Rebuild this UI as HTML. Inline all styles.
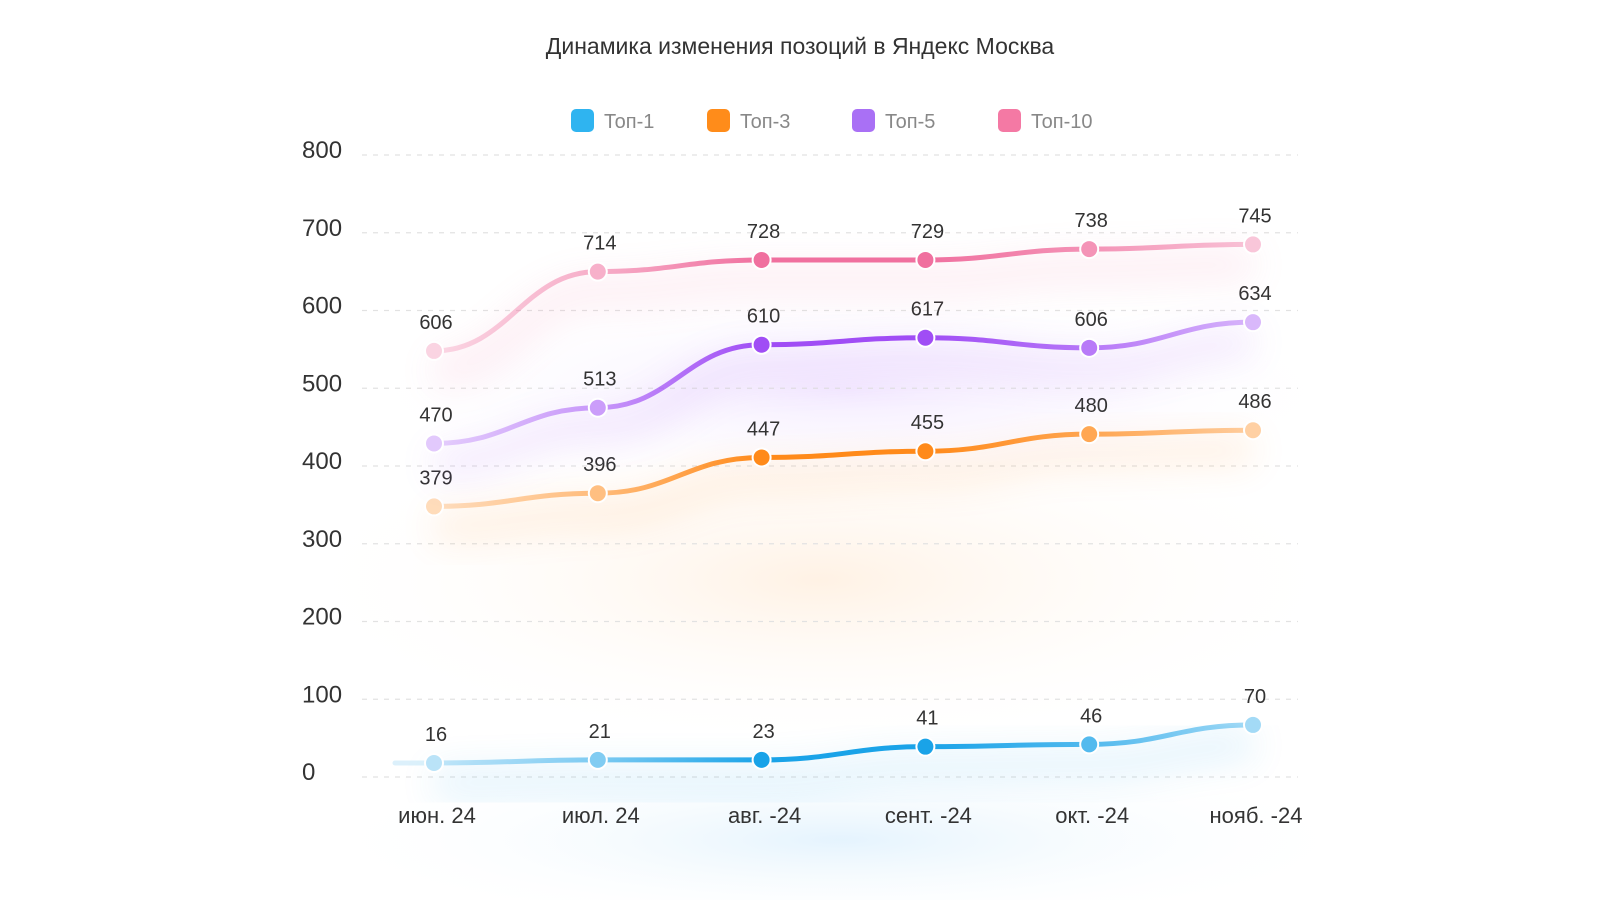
<!DOCTYPE html>
<html><head><meta charset="utf-8">
<style>
html,body{margin:0;padding:0;background:#fff;}
body{width:1600px;height:900px;overflow:hidden;font-family:"Liberation Sans",sans-serif;}
</style></head>
<body>
<svg id="chart" width="1600" height="900" viewBox="0 0 1600 900" xmlns="http://www.w3.org/2000/svg">
<defs>
<filter id="blur" x="-20%" y="-50%" width="140%" height="200%"><feGaussianBlur stdDeviation="18"/></filter>
<radialGradient id="bgOrange" cx="50%" cy="50%" r="50%"><stop offset="0" stop-color="#ffd9b3" stop-opacity="0.35"/><stop offset="1" stop-color="#fff" stop-opacity="0"/></radialGradient>
<radialGradient id="bgBlue" cx="50%" cy="50%" r="50%"><stop offset="0" stop-color="#cfeafc" stop-opacity="0.55"/><stop offset="1" stop-color="#fff" stop-opacity="0"/></radialGradient>
<radialGradient id="bgPurple" cx="50%" cy="50%" r="50%"><stop offset="0" stop-color="#ead9ff" stop-opacity="0.55"/><stop offset="1" stop-color="#fff" stop-opacity="0"/></radialGradient>
</defs>
<ellipse cx="820" cy="580" rx="540" ry="170" fill="url(#bgOrange)"/>
<ellipse cx="850" cy="390" rx="510" ry="110" fill="url(#bgPurple)"/>
<ellipse cx="840" cy="840" rx="530" ry="90" fill="url(#bgBlue)"/>
<text x="800" y="54" text-anchor="middle" font-size="23" fill="#333">Динамика изменения позоций в Яндекс Москва</text>
<g id="grid"></g><g id="yaxis"></g><g id="xaxis"></g><g id="legend"></g><g id="series"></g>
</svg>
<script>
const categories = ["июн. 24","июл. 24","авг. -24","сент. -24","окт. -24","нояб. -24"];
const yTicks = [0,100,200,300,400,500,600,700,800];
const seriesNames = ["Топ-1","Топ-3","Топ-5","Топ-10"];
const seriesColors = ["#1AA3E8","#FF8A1A","#A04DF5","#F0709F"];
const legendColors = ["#2FB4F0","#FF8C1A","#A970F5","#F479A4"];
const top1Values = [18,22,22,39,42,67];
const top3Values = [348,365,411,419,441,446];
const top5Values = [429,475,556,565,552,585];
const top10Values = [548,650,665,665,679,685];
const top1Labels = [16,21,23,41,46,70];
const top3Labels = [379,396,447,455,480,486];
const top5Labels = [470,513,610,617,606,634];
const top10Labels = [606,714,728,729,738,745];
const pointStrength = [0.25,0.55,1,1,0.75,0.4];

const NS="http://www.w3.org/2000/svg";
const X0=434, DX=163.8, Y0=777, YTOP=155, YMAX=800;
const xs=i=>X0+i*DX;
const ys=v=>Y0-(v/YMAX)*(Y0-YTOP);
function mk(tag,attrs,parent){const e=document.createElementNS(NS,tag);for(const k in attrs)e.setAttribute(k,attrs[k]);parent.appendChild(e);return e;}
const grid=document.getElementById('grid'),yax=document.getElementById('yaxis'),xax=document.getElementById('xaxis'),leg=document.getElementById('legend'),ser=document.getElementById('series');
yTicks.forEach(t=>{
  const l=mk('line',{x1:362,x2:1298,y1:ys(t),y2:ys(t),stroke:'#e2e2e2','stroke-width':1.2,'stroke-dasharray':'5 6'},grid);
  
  
  const tx=mk('text',{x:302,y:ys(t)+3,'font-size':24,fill:'#333'},yax);
  tx.textContent=t;
  
  
});
categories.forEach((c,i)=>{
  const tx=mk('text',{x:xs(i)+3,y:823,'text-anchor':'middle','font-size':22,fill:'#333'},xax);
  tx.textContent=c;
  
  
});
const legX=[571,707,852,998];
seriesNames.forEach((n,i)=>{
  const g=mk('g',{},leg);
  
  
  mk('rect',{x:legX[i],y:109,width:23,height:23,rx:5,fill:legendColors[i]},g);
  const t=mk('text',{x:legX[i]+33,y:128,'font-size':20,fill:'#888'},g);
  t.textContent=n;
});
function pathD(vals){
  let d='M'+xs(0)+','+ys(vals[0]);
  for(let i=1;i<vals.length;i++){
    const x0=xs(i-1),x1=xs(i),y0=ys(vals[i-1]),y1=ys(vals[i]);
    const c=(x1-x0)*0.45;
    d+=` C${x0+c},${y0} ${x1-c},${y1} ${x1},${y1}`;
  }
  return d;
}
const allVals=[top1Values,top3Values,top5Values,top10Values];
const allLabels=[top1Labels,top3Labels,top5Labels,top10Labels];
const defs=document.querySelector('defs');
allVals.forEach((vals,s)=>{
  const g=mk('g',{},ser);
  
  
  const gid='lg'+s;
  const lg=mk('linearGradient',{id:gid,gradientUnits:'userSpaceOnUse',x1:xs(0),x2:xs(vals.length-1),y1:0,y2:0},defs);
  pointStrength.forEach((p,i)=>mk('stop',{offset:i/(vals.length-1),'stop-color':seriesColors[s],'stop-opacity':p},lg));
  const glow=mk('path',{d:pathD(vals),fill:'none',stroke:seriesColors[s],'stroke-width':30,opacity:0.12,filter:'url(#blur)',transform:'translate(0,20)'},g);
  
  
  const p=mk('path',{d:pathD(vals),fill:'none',stroke:'url(#'+gid+')','stroke-width':5,'stroke-linecap':'round'},g);
  
  
  if(s===0){
    const ext=mk('line',{x1:395,y1:ys(vals[0]),x2:xs(0),y2:ys(vals[0]),stroke:seriesColors[s],'stroke-width':5,opacity:0.15,'stroke-linecap':'round'},g);
    
    
  }
  vals.forEach((v,i)=>{
    mk('circle',{cx:xs(i),cy:ys(v),r:10,fill:'#fff'},g);
    const c=mk('circle',{cx:xs(i),cy:ys(v),r:8,fill:seriesColors[s],'fill-opacity':Math.max(0.3,pointStrength[i])},g);
    
    
    const t=mk('text',{x:xs(i)+2,y:ys(v)-22,'text-anchor':'middle','font-size':20,fill:'#333'},g);
    t.textContent=allLabels[s][i];
    
    
  });
});
</script>
</body></html>
